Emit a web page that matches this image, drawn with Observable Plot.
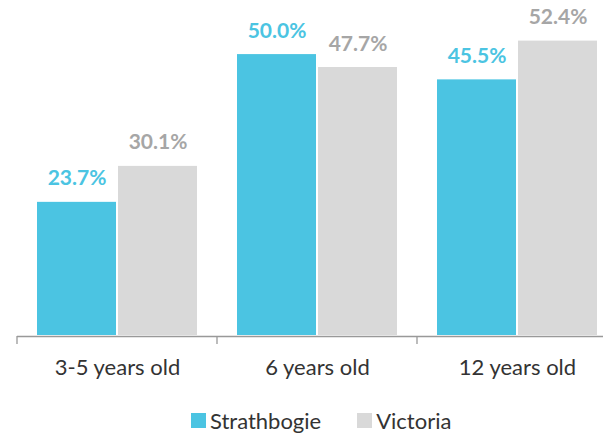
<!DOCTYPE html>
<html>
<head>
<meta charset="utf-8">
<script src="https://cdn.jsdelivr.net/npm/d3@7"></script>
<script src="https://cdn.jsdelivr.net/npm/@observablehq/plot@0.6"></script>
<style>
  body { margin: 0; background: #fff; font-family: Lato, "Open Sans", sans-serif; }
  #wrap { width: 603px; overflow: hidden; position: relative; }
  #chart svg { max-width: none !important; }
  #legend { display: flex; align-items: center; margin-left: 191px; margin-top: 16px; font-size: 22px; color: #333; height: 28px; }
  .sw { width: 15px; height: 15px; display: inline-block; margin-right: 4px; }
  .item { display: flex; align-items: center; }
</style>
</head>
<body>
<div id="wrap"><div id="chart"></div>
<div id="legend"></div></div>
<script>
const groups = ["3-5 years old", "6 years old", "12 years old"];
const series = ["Strathbogie", "Victoria"];
const strathbogie = [23.7, 50.0, 45.5];
const victoria = [30.1, 47.7, 52.4];
const barColors = ["#4BC4E2", "#D9D9D9"];
const labelColors = ["#4BC4E2", "#A6A6A6"];

const data = [];
groups.forEach((g, i) => {
  data.push({group: g, series: series[0], value: strathbogie[i]});
  data.push({group: g, series: series[1], value: victoria[i]});
});

const plot = Plot.plot({
  width: 620,
  height: 390,
  marginLeft: 17,
  marginRight: 3,
  marginTop: 26,
  marginBottom: 55,
  style: {fontFamily: "Lato, sans-serif", background: "#fff", maxWidth: "none"},
  fx: {domain: groups, padding: 0, axis: "bottom", label: null, tickSize: 0, tickPadding: 24},
  x: {domain: series, axis: null, paddingInner: 0.03, paddingOuter: 0.235},
  y: {domain: [0, 55], axis: null},
  color: {domain: series, range: barColors},
  marks: [
    Plot.barY(data, {fx: "group", x: "series", y: "value", fill: "series"}),
    Plot.text(data, {
      fx: "group", x: "series", y: "value",
      text: d => d.value.toFixed(1) + "%",
      fill: d => labelColors[series.indexOf(d.series)],
      lineAnchor: "bottom", dy: -17,
      fontSize: 21, fontWeight: "bold"
    }),
    Plot.ruleY([0], {stroke: "#999", strokeWidth: 1.3, dy: 1})
  ]
});

plot.style.maxWidth = "none";
d3.select(plot).selectAll("[aria-label^='fx-axis']").attr("font-size", 22).attr("fill", "#333");

// boundary ticks from the fx scale
const fx = plot.scale("fx");
const y = plot.scale("y");
const y0 = y.apply(0) + 1;
const svg = d3.select(plot);
const tickG = svg.append("g").attr("stroke", "#999").attr("stroke-width", 1.3);
groups.forEach(g => {
  const xl = fx.apply(g);
  tickG.append("line").attr("x1", xl).attr("x2", xl).attr("y1", y0).attr("y2", y0 + 8);
});
const last = fx.apply(groups[groups.length - 1]) + fx.bandwidth;
tickG.append("line").attr("x1", last).attr("x2", last).attr("y1", y0).attr("y2", y0 + 8);

document.getElementById("chart").appendChild(plot);

const legend = document.getElementById("legend");
series.forEach((s, i) => {
  const it = document.createElement("div");
  it.className = "item";
  if (i > 0) it.style.marginLeft = "36px";
  const sw = document.createElement("span");
  sw.className = "sw";
  sw.style.background = barColors[i];
  it.appendChild(sw);
  const t = document.createElement("span");
  t.textContent = s;
  it.appendChild(t);
  legend.appendChild(it);
});
</script>
</body>
</html>
